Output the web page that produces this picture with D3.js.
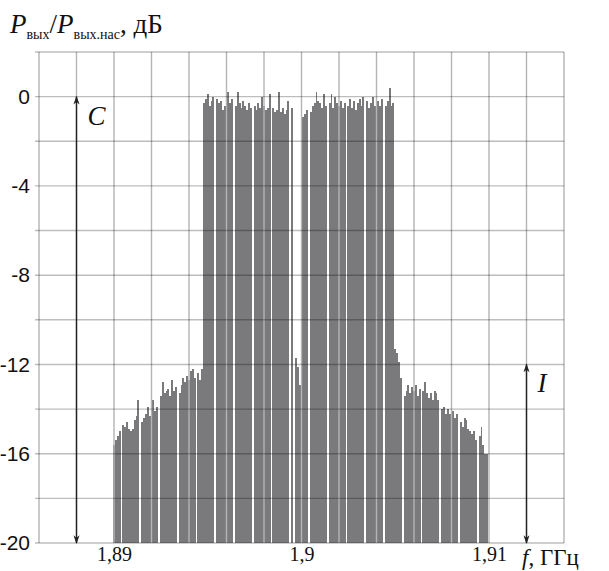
<!DOCTYPE html>
<html>
<head>
<meta charset="utf-8">
<script src="https://cdn.jsdelivr.net/npm/d3@7"></script>
<style>
  body { margin: 0; background: #fff; }
</style>
</head>
<body>
<div id="chart"></div>
<script>
var yTicks = [0, -4, -8, -12, -16, -20];
var xTicks = [1.89, 1.9, 1.91];
var xTickLabels = ["1,89", "1,9", "1,91"];

// spectrum: one level (dB) per 0.0001 GHz bin from 1.8900 GHz, null = no line
var startFreq = 1.89;
var binStep = 0.0001;
var levels = [
  -15.6, -15.4, -15.2, -15.0, null, -14.7, -14.8, -14.6, -14.9, -15.0,
  -14.9, -14.5, -14.3, -13.6, null, -14.6, -14.4, -14.2, -13.9, -14.3,
  -14.0, -13.6, -14.1, -13.9, null, -13.4, -12.8, -13.3, -13.2, -13.1,
  -13.4, -12.7, -13.2, -13.0, null, -13.3, -12.9, -12.6, -12.8, -12.5,
  -12.7, -12.3, -12.2, -12.6, null, -12.4, -12.7, -12.2, -0.3, -0.1,
  0.1, -0.4, -0.2, 0.0, null, -0.1, -0.3, -0.2, -0.6, -0.4,
  -0.2, 0.2, -0.3, -0.1, null, -0.4, 0.2, -0.3, -0.5, -0.2,
  -0.4, -0.6, -0.3, -0.5, null, -0.4, -0.6, -0.3, -0.5, 0.0,
  -0.4, -0.6, -0.5, 0.1, null, -0.5, -0.7, -0.6, 0.2, -0.7,
  -0.5, -0.8, -0.6, -0.2, null, -0.5, null, -11.7, -12.1, -12.9,
  null, -0.9, -0.8, -0.6, null, -0.7, -0.4, -0.3, 0.2, -0.2,
  -0.3, -0.5, 0.1, -0.4, null, -0.3, 0.1, -0.5, 0.0, -0.3,
  -0.4, -0.2, -0.5, -0.3, null, -0.4, -0.1, -0.5, -0.2, -0.6,
  -0.3, -0.1, -0.4, 0.0, null, -0.2, -0.5, -0.3, 0.0, -0.4,
  -0.5, -0.2, -0.4, -0.1, null, -0.4, -0.2, 0.4, -0.4, -0.3,
  -11.3, -11.5, -11.9, -12.6, null, -13.4, -13.2, -12.9, -13.3, -13.0,
  -13.2, -12.9, -13.4, -13.1, null, -13.2, -12.8, -13.3, -13.5, -13.3,
  -13.6, -13.2, -13.3, -13.6, null, -14.0, -13.9, -14.2, -14.0, -14.2,
  -14.3, -14.1, -14.4, -14.2, null, -14.6, -14.8, -14.4, -14.5, -14.9,
  -15.0, -15.1, -15.0, -15.4, null, -15.2, -14.8, -15.6, -16.0, -16.0
];

var markers = [
  { label: "C", freq: 1.888, top: 0, bottom: -20 },
  { label: "I", freq: 1.912, top: -12, bottom: -20 }
];

var w = 609, h = 571;

var x = d3.scaleLinear().domain([1.886, 1.914]).range([39, 564]);
var y = d3.scaleLinear().domain([-20, 2]).range([543, 52]);

var svg = d3.select("#chart").append("svg")
    .attr("width", w)
    .attr("height", h)
    .style("font-family", "'Liberation Serif', 'Times New Roman', serif");

svg.append("defs").append("marker")
    .attr("id", "head")
    .attr("viewBox", "0 -4 10 8")
    .attr("refX", 9)
    .attr("refY", 0)
    .attr("markerWidth", 9)
    .attr("markerHeight", 7)
    .attr("markerUnits", "userSpaceOnUse")
    .attr("orient", "auto-start-reverse")
    .append("path")
    .attr("d", "M0,-3.5L10,0L0,3.5L3,0Z")
    .attr("fill", "#222");

var spectrum = levels.map(function(v, i) {
  return { f: startFreq + i * binStep, v: v };
}).filter(function(d) { return d.v !== null; });

var half = (x(startFreq + binStep) - x(startFreq)) / 2;
function left(d) { return Math.round(x(d.f) - half); }
function right(d) { return Math.round(x(d.f) + half); }

// bars
svg.append("g")
    .attr("shape-rendering", "crispEdges")
    .selectAll("rect")
    .data(spectrum)
    .enter()
    .append("rect")
    .attr("x", left)
    .attr("y", function(d) { return y(d.v); })
    .attr("width", function(d) { return right(d) - left(d); })
    .attr("height", function(d) { return y(-20) - y(d.v); })
    .attr("fill", "#7a7a7c");

// grid
var vGrid = d3.range(0, 15).map(function(i) { return 1.886 + i * 0.002; });
var hGrid = d3.range(-20, 3, 2);

svg.append("g").selectAll("line")
    .data(vGrid)
    .enter()
    .append("line")
    .attr("x1", function(d) { return x(d); })
    .attr("x2", function(d) { return x(d); })
    .attr("y1", y(2))
    .attr("y2", y(-20))
    .attr("stroke", "#b4b4b4")
    .attr("stroke-width", 1.4);

svg.append("g").selectAll("line")
    .data(hGrid)
    .enter()
    .append("line")
    .attr("x1", x.range()[0] - 4)
    .attr("x2", x.range()[1])
    .attr("y1", function(d) { return y(d); })
    .attr("y2", function(d) { return y(d); })
    .attr("stroke", "#000")
    .attr("stroke-opacity", 0.26)
    .attr("stroke-width", 1.4);

// y axis labels
var yAxis = d3.axisLeft(y).tickValues(yTicks).tickSize(0).tickPadding(7)
    .tickFormat(function(d) { return d === 0 ? "0" : "-" + Math.abs(d); });

var gy = svg.append("g")
    .attr("transform", "translate(" + (x.range()[0] - 2) + ",0)")
    .call(yAxis);
gy.select(".domain").remove();
gy.selectAll("text")
    .attr("fill", "#111")
    .style("font-family", "'Liberation Sans Narrow', 'Liberation Sans', Arial, sans-serif")
    .style("font-size", "21px");

// x axis labels
var xAxis = d3.axisBottom(x).tickValues(xTicks).tickSize(0).tickPadding(4)
    .tickFormat(function(d, i) { return xTickLabels[i]; });

var gx = svg.append("g")
    .attr("transform", "translate(0," + y(-20) + ")")
    .call(xAxis);
gx.select(".domain").remove();
gx.selectAll("text")
    .attr("fill", "#111")
    .style("font-family", "'Liberation Serif', 'Times New Roman', serif")
    .style("font-size", "20px");

// level arrows
svg.append("g").selectAll("line")
    .data(markers)
    .enter()
    .append("line")
    .attr("x1", function(d) { return x(d.freq); })
    .attr("x2", function(d) { return x(d.freq); })
    .attr("y1", function(d) { return y(d.top); })
    .attr("y2", function(d) { return y(d.bottom); })
    .attr("stroke", "#222")
    .attr("stroke-width", 1.4)
    .attr("marker-start", "url(#head)")
    .attr("marker-end", "url(#head)");

svg.append("g").selectAll("text")
    .data(markers)
    .enter()
    .append("text")
    .attr("x", function(d) { return x(d.freq) + 11; })
    .attr("y", function(d) { return y(d.top) + 28; })
    .attr("font-style", "italic")
    .attr("font-size", 27)
    .attr("fill", "#111")
    .text(function(d) { return d.label; });

// y title
var title = svg.append("text")
    .attr("x", 10)
    .attr("y", 33)
    .attr("fill", "#111")
    .attr("font-size", 27);
title.append("tspan").attr("font-style", "italic").text("P");
title.append("tspan").attr("font-size", 14).attr("dy", 6).text("вых");
title.append("tspan").attr("dy", -6).text("/");
title.append("tspan").attr("font-style", "italic").text("P");
title.append("tspan").attr("font-size", 14).attr("dy", 6).text("вых.нас");
title.append("tspan").attr("dy", -6).text(", дБ");

// x title
var xTitle = svg.append("text")
    .attr("x", 522)
    .attr("y", 565)
    .attr("fill", "#111")
    .attr("font-size", 23);
xTitle.append("tspan").attr("font-style", "italic").text("f");
xTitle.append("tspan").text(", ГГц");
</script>
</body>
</html>
